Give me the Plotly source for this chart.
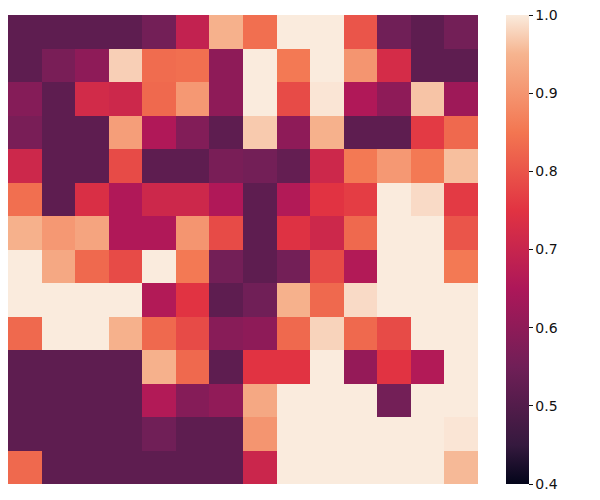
import plotly.graph_objects as go

# rows top to bottom, columns left to right
row_0 = [0.52, 0.52, 0.52, 0.52, 0.555, 0.69, 0.945, 0.84, 1.0, 1.0, 0.80, 0.55, 0.52, 0.555]
row_1 = [0.52, 0.565, 0.60, 0.975, 0.835, 0.84, 0.60, 1.0, 0.855, 1.0, 0.90, 0.725, 0.52, 0.52]
row_2 = [0.585, 0.52, 0.72, 0.71, 0.83, 0.905, 0.60, 1.0, 0.785, 0.995, 0.655, 0.60, 0.965, 0.625]
row_3 = [0.565, 0.52, 0.52, 0.915, 0.655, 0.58, 0.52, 0.97, 0.60, 0.945, 0.52, 0.52, 0.76, 0.83]
row_4 = [0.71, 0.52, 0.52, 0.785, 0.52, 0.52, 0.565, 0.555, 0.53, 0.71, 0.855, 0.905, 0.855, 0.96]
row_5 = [0.84, 0.52, 0.735, 0.655, 0.71, 0.71, 0.655, 0.52, 0.66, 0.75, 0.765, 1.0, 0.985, 0.76]
row_6 = [0.945, 0.905, 0.925, 0.655, 0.655, 0.90, 0.785, 0.52, 0.745, 0.71, 0.83, 1.0, 1.0, 0.80]
row_7 = [1.0, 0.93, 0.83, 0.785, 1.0, 0.855, 0.555, 0.52, 0.555, 0.785, 0.66, 1.0, 1.0, 0.855]
row_8 = [1.0, 1.0, 1.0, 1.0, 0.66, 0.75, 0.52, 0.55, 0.945, 0.83, 0.985, 1.0, 1.0, 1.0]
row_9 = [0.83, 1.0, 1.0, 0.945, 0.83, 0.785, 0.59, 0.60, 0.83, 0.978, 0.83, 0.785, 1.0, 1.0]
row_10 = [0.52, 0.52, 0.52, 0.52, 0.945, 0.83, 0.52, 0.75, 0.75, 1.0, 0.61, 0.75, 0.66, 1.0]
row_11 = [0.52, 0.52, 0.52, 0.52, 0.66, 0.585, 0.605, 0.93, 1.0, 1.0, 1.0, 0.555, 1.0, 1.0]
row_12 = [0.52, 0.52, 0.52, 0.52, 0.55, 0.52, 0.52, 0.90, 1.0, 1.0, 1.0, 1.0, 1.0, 0.995]
row_13 = [0.83, 0.52, 0.52, 0.52, 0.52, 0.52, 0.52, 0.705, 1.0, 1.0, 1.0, 1.0, 1.0, 0.955]

z = [row_0, row_1, row_2, row_3, row_4, row_5, row_6,
     row_7, row_8, row_9, row_10, row_11, row_12, row_13]

colorbar_ticks = [0.4, 0.5, 0.6, 0.7, 0.8, 0.9, 1.0]

# seaborn "rocket"
rocket = [
    [0.0, "#03051a"],
    [0.083, "#35193e"],
    [0.25, "#701f57"],
    [0.417, "#ad1759"],
    [0.583, "#e13342"],
    [0.75, "#f37651"],
    [0.917, "#f6b48f"],
    [1.0, "#faebdd"],
]

fig = go.Figure(
    go.Heatmap(
        z=z,
        zmin=0.4,
        zmax=1.0,
        colorscale=rocket,
        colorbar=dict(
            x=0.83,
            xanchor="left",
            xpad=0,
            y=0.5,
            len=1.0,
            ypad=0,
            thickness=23,
            outlinewidth=0,
            ticks="outside",
            ticklen=4,
            tickcolor="#111111",
            tickvals=colorbar_ticks,
            tickformat=".1f",
            ticklabeloverflow="allow",
            tickfont=dict(family="DejaVu Sans", size=14, color="#111111"),
        ),
    )
)

# the page body adds 8px around the figure, margins are set with that in mind
fig.update_layout(
    width=600,
    height=500,
    plot_bgcolor="white",
    paper_bgcolor="white",
    margin=dict(t=7, l=0, r=0, b=24),
)
fig.update_xaxes(domain=[0, 0.7833], showticklabels=False, ticks="",
                 showgrid=False, zeroline=False, showline=False)
fig.update_yaxes(autorange="reversed", showticklabels=False, ticks="",
                 showgrid=False, zeroline=False, showline=False)

fig.write_html("out.html")
